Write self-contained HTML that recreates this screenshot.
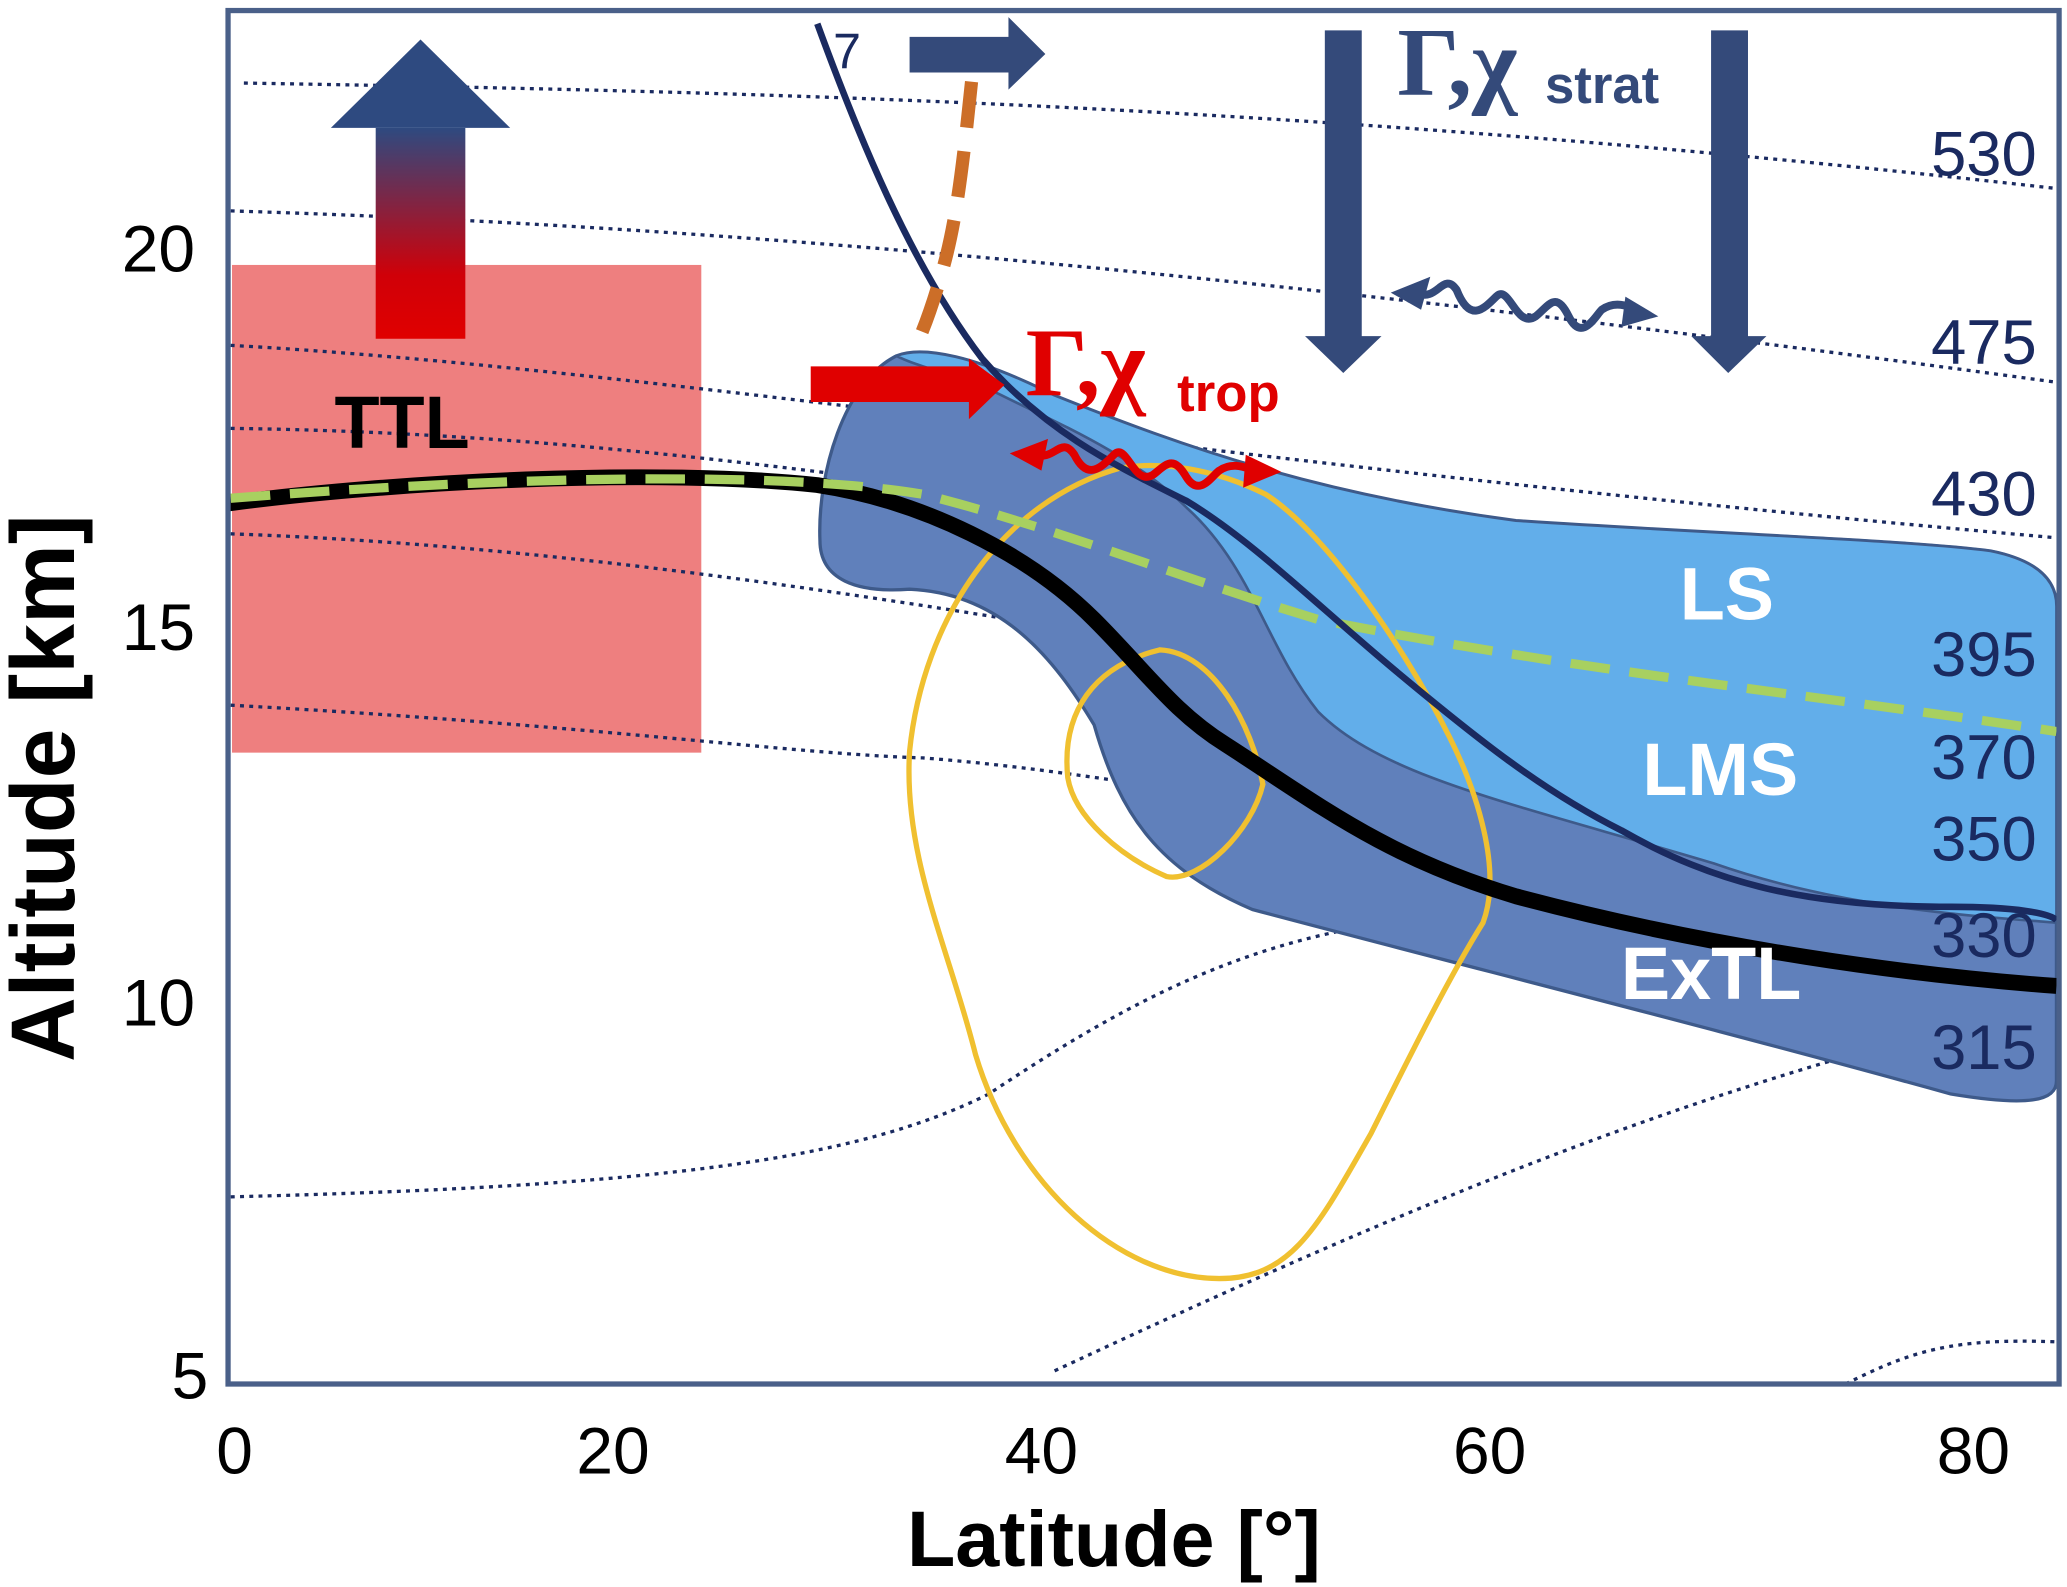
<!DOCTYPE html>
<html><head><meta charset="utf-8"><style>
html,body{margin:0;padding:0;background:#fff;}
svg{display:block;}
</style></head><body>
<svg width="2067" height="1587" viewBox="0 0 1568 1204" preserveAspectRatio="none" xmlns="http://www.w3.org/2000/svg" font-family="Liberation Sans, sans-serif">
<defs>
<linearGradient id="ug" x1="0" y1="1" x2="0" y2="0">
<stop offset="0" stop-color="#e00000"/><stop offset="0.3" stop-color="#d00008"/><stop offset="1" stop-color="#2e4a80"/>
</linearGradient>
</defs>
<rect x="0" y="0" width="1568" height="1204" fill="#fff"/>
<rect x="176" y="201" width="356" height="370" fill="#ee7f7f"/>
<g fill="none" stroke="#1a2a60" stroke-width="2.5" stroke-dasharray="3 4">
<path d="M185,63 C600,70 1000,80 1560,143"/>
<path d="M175,160 C500,170 900,200 1560,290"/>
<path d="M175,262 C500,280 900,350 1560,408"/>
<path d="M175,325 C600,330 1000,420 1560,510"/>
<path d="M175,405 C600,420 1000,520 1560,600"/>
<path d="M175,535 C450,550 600,572 700,575 C900,590 1100,650 1560,662"/>
<path d="M175,908 C500,900 650,880 750,830 C900,730 1000,690 1200,690 C1400,690 1500,710 1560,720"/>
<path d="M800,1040 C1100,900 1300,820 1560,760"/>
<path d="M1400,1050 C1450,1025 1480,1015 1560,1018"/>
</g>
<path d="M680,270 C640,290 620,360 622,410 C622,440 650,450 690,447 C760,450 800,500 830,550 C850,620 880,660 950,690 C1100,730 1300,780 1480,830 C1540,840 1560,835 1560,820 L1560,460 C1560,440 1545,425 1510,418 C1450,410 1300,405 1150,395 C1000,375 900,340 800,300 C740,270 700,262 680,270 Z" fill="#6080bb" stroke="#3e5a8a" stroke-width="2.5"/>
<path d="M680,270 C700,262 740,270 800,300 C900,340 1000,375 1150,395 C1300,405 1450,410 1510,418 C1545,425 1560,440 1560,460 L1560,700 C1500,695 1400,690 1300,655 C1150,610 1050,590 1000,540 C960,490 950,430 900,385 C860,345 800,320 760,300 C730,285 700,280 680,270 Z" fill="#62aeea" stroke="#3e5a8a" stroke-width="2"/>
<g fill="none" stroke="#f0c030" stroke-width="4">
<path d="M850,355 C760,380 700,470 690,570 C685,650 720,720 740,800 C770,900 850,970 925,970 C980,970 1000,930 1040,860 C1070,800 1100,740 1125,700 C1140,660 1120,600 1100,560 C1060,480 1000,400 960,375 C920,355 880,350 850,355Z"/>
<path d="M880,493 C830,505 805,540 810,590 C815,620 850,650 885,665 C910,670 950,630 958,595 C950,550 920,495 880,493Z"/>
</g>
<path d="M173,382 C300,365 500,355 620,368 C700,380 780,420 830,470 C870,510 890,540 930,565 C1000,610 1050,650 1150,680 C1300,720 1450,740 1560,748" fill="none" stroke="#000" stroke-width="12"/>
<path d="M175,378 C400,360 600,358 700,375 C800,400 900,440 1000,470 C1200,510 1400,530 1560,555" fill="none" stroke="#a8d060" stroke-width="7" stroke-dasharray="30 15"/>
<path d="M620,18 C650,100 690,200 745,272 C795,330 850,355 900,380 C950,410 1000,460 1060,510 C1120,560 1170,600 1230,630 C1300,670 1370,688 1480,688 C1530,688 1555,693 1560,698" fill="none" stroke="#1a2a60" stroke-width="5"/>
<text x="632" y="52" font-size="38" fill="#1a2a60">7</text>
<path d="M737,62 C730,130 725,170 715,205 C705,240 700,250 697,258" fill="none" stroke="#cc6e28" stroke-width="10" stroke-dasharray="35 18"/>
<polygon points="690,28 765,28 765,13 793,41 765,68 765,55 690,55" fill="#344a7a"/>
<rect x="285" y="97" width="68" height="160" fill="url(#ug)"/>
<polygon points="251,97 387,97 319,30" fill="#2e4a80"/>
<text x="305" y="340" font-size="56" font-weight="bold" text-anchor="middle" fill="#000">TTL</text>
<polygon points="615,278 735,278 735,272 762,292 735,318 735,305 615,305" fill="#e00000"/>
<text x="778" y="300" font-size="74" font-weight="bold" font-family="Liberation Serif, serif" fill="#e00000">Γ,χ</text>
<text x="893" y="312" font-size="40" font-weight="bold" fill="#e00000">trop</text>
<polygon points="1005,23 1033,23 1033,255 1048,255 1019,283 990,255 1005,255" fill="#344a7a"/>
<polygon points="1298,23 1326,23 1326,255 1340,255 1311,283 1283,255 1298,255" fill="#344a7a"/>
<text x="1060" y="72" font-size="74" font-weight="bold" font-family="Liberation Serif, serif" fill="#344a7a">Γ,χ</text>
<text x="1172" y="78" font-size="40" font-weight="bold" fill="#344a7a">strat</text>
<path d="M1075,222 C1090,230 1095,205 1105,220 C1115,245 1125,235 1135,225 C1145,215 1150,250 1165,240 C1175,232 1180,220 1190,240 C1200,260 1210,240 1215,235 C1225,228 1235,232 1240,235" fill="none" stroke="#344a7a" stroke-width="6"/>
<polygon points="1055,222 1085,210 1078,235" fill="#344a7a"/>
<polygon points="1258,240 1233,225 1230,248" fill="#344a7a"/>
<path d="M785,345 C800,350 805,330 815,345 C825,365 835,355 845,345 C855,335 860,370 875,360 C885,352 890,345 900,362 C910,378 920,360 925,357 C935,350 945,355 952,357" fill="none" stroke="#e00000" stroke-width="6"/>
<polygon points="766,344 795,333 790,357" fill="#e00000"/>
<polygon points="972,358 945,345 943,370" fill="#e00000"/>
<g fill="#fff" font-weight="bold" font-size="56" text-anchor="middle">
<text x="1310" y="470">LS</text>
<text x="1305" y="603">LMS</text>
<text x="1298" y="758">ExTL</text>
</g>
<g fill="#1a2a60" font-size="48" text-anchor="end">
<text x="1545" y="133">530</text>
<text x="1545" y="276">475</text>
<text x="1545" y="391">430</text>
<text x="1545" y="513">395</text>
<text x="1545" y="591">370</text>
<text x="1545" y="653">350</text>
<text x="1545" y="726">330</text>
<text x="1545" y="811">315</text>
</g>
<rect x="173" y="8" width="1389" height="1042" fill="none" stroke="#4a6089" stroke-width="4"/>
<g fill="#000" font-size="50" text-anchor="end">
<text x="148" y="206">20</text>
<text x="148" y="493">15</text>
<text x="148" y="778">10</text>
<text x="158" y="1061">5</text>
</g>
<g fill="#000" font-size="50" text-anchor="middle">
<text x="178" y="1118">0</text>
<text x="465" y="1118">20</text>
<text x="790" y="1118">40</text>
<text x="1130" y="1118">60</text>
<text x="1497" y="1118">80</text>
</g>
<text x="845" y="1188" font-size="60" font-weight="bold" text-anchor="middle" fill="#000">Latitude [°]</text>
<text transform="translate(56,598) rotate(-90)" font-size="68" font-weight="bold" text-anchor="middle" fill="#000">Altitude [km]</text>
</svg>
</body></html>
